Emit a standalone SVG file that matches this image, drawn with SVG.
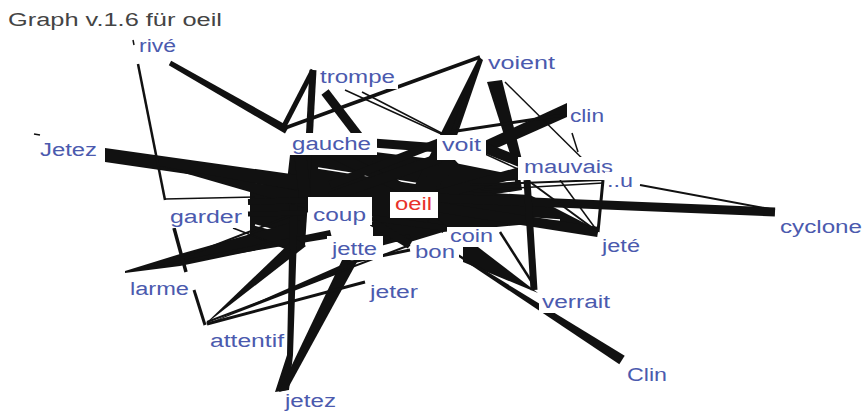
<svg xmlns="http://www.w3.org/2000/svg" width="863" height="412" viewBox="0 0 863 412">
<style>
.e line{stroke:#111;stroke-linecap:butt}
.e polygon{fill:#111}
.e line.gap{stroke:#fff}
.n rect{fill:#fff}
.n text{font-family:"Liberation Sans",Arial,sans-serif;font-size:18px;fill:#4b5aae}
#n-oeil text{fill:#e8322a}
.title{font-family:"Liberation Sans",Arial,sans-serif;font-size:18px;fill:#444}
</style>
<rect width="863" height="412" fill="#fff"/>
<text class="title" x="8" y="26" textLength="214" lengthAdjust="spacingAndGlyphs">Graph v.1.6 für oeil</text>
<g id="edges" class="e">
<polygon points="290,155 375,152 440,160 520,176 522,190 470,198 437,216 372,216 300,212 286,190"/>
<polygon points="437,190 530,195 598,230 596,236 530,224 443,232"/>
<polygon points="250,185 300,182 308,200 305,245 290,250 250,235"/>
<line class="gap" x1="318" y1="168" x2="420" y2="184" stroke-width="1.5"/>
<line class="gap" x1="340" y1="160" x2="392" y2="178" stroke-width="1.2"/>
<line class="gap" x1="460" y1="186" x2="515" y2="181" stroke-width="1.2"/>
<line class="gap" x1="470" y1="214" x2="560" y2="220" stroke-width="1.5"/>
<line class="gap" x1="255" y1="225" x2="296" y2="236" stroke-width="1.5"/>
<line class="gap" x1="258" y1="190" x2="298" y2="194" stroke-width="1.2"/>
<polygon points="171.2,60.8 289,126.5 285,133.5 168.8,65.2"/>
<polygon points="105,148 305,176 305,191 105,162"/>
<polygon points="160,166 305,192 305,208"/>
<polygon points="125,271 180,254 300,220 305,240 180,266 125,273"/>
<polygon points="125,272 330,230 332,238"/>
<polygon points="203,326 295,238 306,246"/>
<polygon points="205,325 348,262 351,269"/>
<polygon points="275,392 289,390 293,355 298,205 290,205 287,355"/>
<polygon points="279,392 287,390 357,262 343,258"/>
<polygon points="479,57 483,60 440,185 415,185"/>
<polygon points="487,82 502,80 522,160 512,160"/>
<polygon points="567,103 567,117 470,160 465,150"/>
<polygon points="463,246 478,247 538,293 463,262"/>
<polygon points="450.5,249.2 624.7,355.8 619.3,364.2 449.5,250.8"/>
<polygon points="373,214 443,214 443,232 410,242 373,242"/>
<line x1="138" y1="64" x2="165" y2="200" stroke-width="2.5"/>
<line x1="165" y1="199" x2="255" y2="197" stroke-width="1.5"/>
<line x1="174" y1="228" x2="186" y2="272" stroke-width="3.5"/>
<line x1="194" y1="290" x2="205" y2="325" stroke-width="3"/>
<line x1="182" y1="258" x2="300" y2="212" stroke-width="2"/>
<line x1="233" y1="228" x2="290" y2="250" stroke-width="1.5"/>
<line x1="248" y1="202" x2="305" y2="200" stroke-width="6"/>
<line x1="248" y1="214" x2="305" y2="213" stroke-width="5"/>
<line x1="207" y1="324" x2="365" y2="282" stroke-width="3"/>
<line x1="207" y1="322" x2="410" y2="245" stroke-width="2"/>
<line x1="347" y1="263" x2="410" y2="250" stroke-width="3"/>
<line x1="350" y1="252" x2="410" y2="236" stroke-width="4"/>
<line x1="313" y1="70" x2="283" y2="128" stroke-width="5"/>
<line x1="313" y1="70" x2="306" y2="197" stroke-width="7"/>
<line x1="325" y1="92" x2="400" y2="190" stroke-width="9"/>
<line x1="480" y1="57" x2="285" y2="128" stroke-width="3.5"/>
<line x1="362" y1="92" x2="455" y2="140" stroke-width="1.5"/>
<line x1="345" y1="90" x2="520" y2="170" stroke-width="1.5"/>
<line x1="466" y1="95" x2="452" y2="135" stroke-width="4"/>
<line x1="505" y1="82" x2="602" y2="178" stroke-width="1.5"/>
<line x1="450" y1="132" x2="563" y2="115" stroke-width="3"/>
<line x1="572" y1="133" x2="578" y2="152" stroke-width="1.5"/>
<line x1="330" y1="152" x2="410" y2="192" stroke-width="10"/>
<line x1="300" y1="152" x2="305" y2="197" stroke-width="12"/>
<line x1="373" y1="143" x2="440" y2="148" stroke-width="9"/>
<line x1="440" y1="158" x2="330" y2="197" stroke-width="10"/>
<line x1="455" y1="160" x2="420" y2="192" stroke-width="14"/>
<line x1="520" y1="172" x2="437" y2="195" stroke-width="10"/>
<line x1="485" y1="148" x2="520" y2="162" stroke-width="10"/>
<line x1="330" y1="185" x2="445" y2="140" stroke-width="8"/>
<line x1="437" y1="207" x2="598" y2="232" stroke-width="10"/>
<line x1="437" y1="198" x2="775" y2="212" stroke-width="9"/>
<line x1="430" y1="218" x2="445" y2="230" stroke-width="8"/>
<line x1="445" y1="228" x2="372" y2="218" stroke-width="6"/>
<line x1="410" y1="245" x2="372" y2="222" stroke-width="8"/>
<line x1="603" y1="180" x2="598" y2="232" stroke-width="3"/>
<line x1="470" y1="185" x2="603" y2="180" stroke-width="2"/>
<line x1="480" y1="190" x2="603" y2="183" stroke-width="1.5"/>
<line x1="530" y1="182" x2="598" y2="232" stroke-width="2"/>
<line x1="560" y1="180" x2="598" y2="232" stroke-width="1.5"/>
<line x1="640" y1="185" x2="775" y2="210" stroke-width="2"/>
<line x1="527" y1="180" x2="534" y2="290" stroke-width="7"/>
<line x1="500" y1="232" x2="535" y2="287" stroke-width="2.5"/>
<line x1="34" y1="134" x2="40" y2="135" stroke-width="1.5"/>
<line x1="133" y1="40" x2="134" y2="45" stroke-width="1.5"/>
</g>
<g id="n-rive" class="n"><rect x="136" y="36" width="43" height="21"/><text x="139" y="52" textLength="37" lengthAdjust="spacingAndGlyphs">rivé</text></g>
<g id="n-Jetez" class="n"><rect x="37" y="140" width="63" height="21"/><text x="40" y="156" textLength="57" lengthAdjust="spacingAndGlyphs">Jetez</text></g>
<g id="n-trompe" class="n"><rect x="317" y="67" width="81" height="22"/><text x="320" y="83" textLength="75" lengthAdjust="spacingAndGlyphs">trompe</text></g>
<g id="n-voient" class="n"><rect x="485" y="53" width="73" height="21"/><text x="488" y="69" textLength="67" lengthAdjust="spacingAndGlyphs">voient</text></g>
<g id="n-clin" class="n"><rect x="567" y="106" width="40" height="21"/><text x="570" y="122" textLength="34" lengthAdjust="spacingAndGlyphs">clin</text></g>
<g id="n-gauche" class="n"><rect x="288" y="133" width="89" height="22"/><text x="292" y="150" textLength="79" lengthAdjust="spacingAndGlyphs">gauche</text></g>
<g id="n-voit" class="n"><rect x="437" y="135" width="49" height="25"/><text x="442" y="151" textLength="39" lengthAdjust="spacingAndGlyphs">voit</text></g>
<g id="n-mauvais" class="n"><rect x="518" y="157" width="96" height="23"/><text x="524" y="173" textLength="89" lengthAdjust="spacingAndGlyphs">mauvais</text></g>
<g id="n-u" class="n"><rect x="605" y="172" width="31" height="18"/><text x="607" y="187" textLength="26" lengthAdjust="spacingAndGlyphs">..u</text></g>
<g id="n-cyclone" class="n"><rect x="777" y="217" width="86" height="22"/><text x="780" y="233" textLength="82" lengthAdjust="spacingAndGlyphs">cyclone</text></g>
<g id="n-garder" class="n"><rect x="166" y="206" width="80" height="22"/><text x="170" y="223" textLength="72" lengthAdjust="spacingAndGlyphs">garder</text></g>
<g id="n-coup" class="n"><rect x="308" y="197" width="64" height="28"/><text x="313" y="221" textLength="53" lengthAdjust="spacingAndGlyphs">coup</text></g>
<g id="n-oeil" class="n"><rect x="390" y="192" width="48" height="26"/><text x="395" y="210" textLength="37" lengthAdjust="spacingAndGlyphs">oeil</text></g>
<g id="n-coin" class="n"><rect x="447" y="227" width="50" height="20"/><text x="450" y="242" textLength="43" lengthAdjust="spacingAndGlyphs">coin</text></g>
<g id="n-jette" class="n"><rect x="327" y="236" width="56" height="24"/><text x="332" y="255" textLength="45" lengthAdjust="spacingAndGlyphs">jette</text></g>
<g id="n-bon" class="n"><rect x="412" y="243" width="47" height="20"/><text x="415" y="258" textLength="40" lengthAdjust="spacingAndGlyphs">bon</text></g>
<g id="n-jete" class="n"><rect x="599" y="235" width="45" height="22"/><text x="602" y="252" textLength="38" lengthAdjust="spacingAndGlyphs">jeté</text></g>
<g id="n-larme" class="n"><rect x="127" y="279" width="65" height="20"/><text x="130" y="295" textLength="59" lengthAdjust="spacingAndGlyphs">larme</text></g>
<g id="n-jeter" class="n"><rect x="367" y="283" width="54" height="20"/><text x="370" y="298" textLength="48" lengthAdjust="spacingAndGlyphs">jeter</text></g>
<g id="n-verrait" class="n"><rect x="539" y="294" width="74" height="19"/><text x="542" y="308" textLength="68" lengthAdjust="spacingAndGlyphs">verrait</text></g>
<g id="n-attentif" class="n"><rect x="207" y="331" width="80" height="20"/><text x="210" y="347" textLength="74" lengthAdjust="spacingAndGlyphs">attentif</text></g>
<g id="n-Clin" class="n"><rect x="624" y="365" width="46" height="20"/><text x="627" y="381" textLength="40" lengthAdjust="spacingAndGlyphs">Clin</text></g>
<g id="n-jetez" class="n"><rect x="282" y="393" width="57" height="19"/><text x="285" y="407" textLength="51" lengthAdjust="spacingAndGlyphs">jetez</text></g>
</svg>
